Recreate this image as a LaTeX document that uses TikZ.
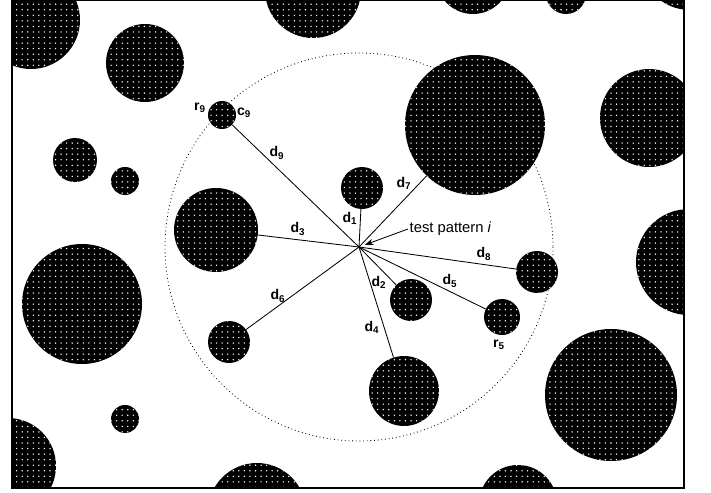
\documentclass[tikz,border=0pt]{standalone}
\usepackage{fontspec}
\setmainfont{Liberation Sans}
\usetikzlibrary{patterns,arrows.meta}

% white dot grid on the black particles
\pgfdeclarepatternformonly{dotgrid}{\pgfqpoint{-1pt}{-1pt}}{\pgfqpoint{1pt}{1pt}}{\pgfqpoint{3.95pt}{3.95pt}}{%
  \pgfpathcircle{\pgfqpoint{0pt}{0pt}}{0.55pt}\pgfusepath{fill}}

\tikzset{
  blob/.style={circle, inner sep=0pt, fill=black, postaction={pattern=dotgrid, pattern color=white}, minimum size=#1*0.025cm},
  dlabel/.style={font=\bfseries\fontsize{10}{12}\selectfont, inner sep=1pt},
  dist/.style={line width=0.6pt}
}

\begin{document}
\begin{tikzpicture}[x=0.025cm, y=-0.025cm]
    		\useasboundingbox (0,0) rectangle (711,493);
    		
    		% test pattern and search radius
    		\coordinate (p) at (359,247);
    		\draw[dotted, line width=0.6pt] (p) circle (194);
    		
    		\begin{scope}
    		\clip (12,0) rectangle (684,488);
    		% particles far away
    		\node[blob=98] (a1) at (31,20) {};
    		\node[blob=78] (a2) at (145,63) {};
    		\node[blob=96] (a3) at (313,-10) {};
    		\node[blob=74] (a4) at (473,-23) {};
    		\node[blob=40] (a5) at (566,-6) {};
    		\node[blob=100] (a6) at (690,-40) {};
    		\node[blob=98] (a7) at (649,118) {};
    		\node[blob=106] (a8) at (689,262) {};
    		\node[blob=132] (a9) at (611,395) {};
    		\node[blob=120] (a10) at (82,304) {};
    		\node[blob=44] (a11) at (75,160) {};
    		\node[blob=28] (a12) at (125,181) {};
    		\node[blob=28] (a13) at (125,419) {};
    		\node[blob=96] (a14) at (8,466) {};
    		\node[blob=98] (a15) at (257,512) {};
    		\node[blob=78] (a16) at (518,504) {};
    		
    		% neighbours
    		\node[blob=42] (c1) at (362,188) {};
    		\node[blob=42] (c2) at (411,300) {};
    		\node[blob=84] (c3) at (216,230) {};
    		\node[blob=70] (c4) at (404,391) {};
    		\node[blob=36] (c5) at (502,317) {};
    		\node[blob=42] (c6) at (229,342) {};
    		\node[blob=140] (c7) at (475,125) {};
    		\node[blob=42] (c8) at (537,272) {};
    		\node[blob=28] (c9) at (222,115) {};
    		\end{scope}
    		
    		% frame
    		\draw[line width=1.2pt] (12,0) rectangle (684,488);
    		
    		% distances
    		\draw[dist] (p) -- (c1);
    		\draw[dist] (p) -- (c2);
    		\draw[dist] (p) -- (c3);
    		\draw[dist] (p) -- (c4);
    		\draw[dist] (p) -- (c5);
    		\draw[dist] (p) -- (c6);
    		\draw[dist] (p) -- (c7);
    		\draw[dist] (p) -- (c8);
    		\draw[dist] (p) -- (c9);
    		
    		\node[dlabel] (l1) at (350,218) {d\textsubscript{1}};
    		\node[dlabel] (l2) at (379,282) {d\textsubscript{2}};
    		\node[dlabel] (l3) at (298,229) {d\textsubscript{3}};
    		\node[dlabel] (l4) at (372,327) {d\textsubscript{4}};
    		\node[dlabel] (l5) at (450,281) {d\textsubscript{5}};
    		\node[dlabel] (l6) at (278,296) {d\textsubscript{6}};
    		\node[dlabel] (l7) at (404,183) {d\textsubscript{7}};
    		\node[dlabel] (l8) at (484,254) {d\textsubscript{8}};
    		\node[dlabel] (l9) at (277,153) {d\textsubscript{9}};
    		
    		% radius and centre
    		\node[dlabel] (r9) at (200,108) {r\textsubscript{9}};
    		\node[dlabel] (k9) at (244,113) {c\textsubscript{9}};
    		\node[dlabel] (r5) at (499,345) {r\textsubscript{5}};
    		
    		% test pattern
    		\node[font=\fontsize{10.5}{12}\selectfont, anchor=west, inner sep=1pt] (tp) at (408,229) {test pattern \textit{i}};
    		\draw[dist, -{Stealth[length=6pt, width=4.5pt]}, shorten >=4.5pt] (tp.west) -- (p);
    	\end{tikzpicture}
\end{document}
